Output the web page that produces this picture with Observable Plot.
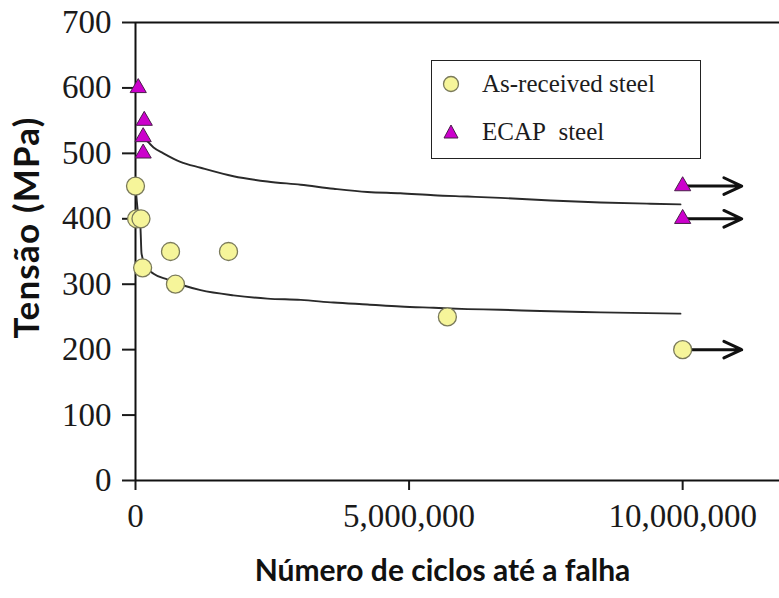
<!DOCTYPE html>
<html>
<head>
<meta charset="utf-8">
<script src="https://cdn.jsdelivr.net/npm/d3@7"></script>
<script src="https://cdn.jsdelivr.net/npm/@observablehq/plot@0.6"></script>
<style>
  html, body { margin: 0; padding: 0; background: #fff; }
  #chart { position: relative; width: 779px; height: 598px; }
  #legend {
    position: absolute; left: 431px; top: 60px; width: 268px; height: 97px;
    border: 1.6px solid #222; background: #fff;
    font-family: "Liberation Serif", "Times New Roman", serif; font-size: 25px; color: #1c1c1c;
  }
  #legend .row { position: absolute; left: 0; display: flex; align-items: center; }
  #legend svg { display: block; margin-left: 9px; margin-right: 21px; }
</style>
</head>
<body>
<div id="chart"></div>
<script>
// Fatigue tests: stress amplitude (MPa) against number of cycles to failure
const asReceivedCycles = [0, 20000, 100000, 130000, 640000, 730000, 1700000, 5700000, 10000000];
const asReceivedStress = [450, 400, 400, 325, 350, 300, 350, 250, 200];

const ecapCycles = [50000, 160000, 140000, 140000, 10000000, 10000000];
const ecapStress = [600, 550, 525, 500, 450, 400];

// Specimens that did not fail (run-outs) at 10^7 cycles
const runoutCycles = [10000000, 10000000, 10000000];
const runoutStress = [450, 400, 200];
const runoutSeries = ["ECAP", "ECAP", "As-received"];
const runoutEnd = 11080000;

// Fitted S-N curves
const asReceivedFitCycles = [0, 40000, 90000, 110000, 180000, 330000, 590000, 880000, 1190000, 1790000, 2410000, 3020000, 3620000, 4240000, 4840000, 5450000, 6070000, 6670000, 7400000, 8500000, 9960000];
const asReceivedFitStress = [451, 413, 387, 347, 328, 316, 307, 298, 291, 283, 278, 276, 272, 269, 266, 264, 262, 261, 259, 257, 255];

const ecapFitCycles = [140000, 220000, 330000, 510000, 820000, 1190000, 1790000, 2410000, 3020000, 3620000, 4240000, 4840000, 5450000, 6070000, 6670000, 7590000, 8500000, 9410000, 9960000];
const ecapFitStress = [523, 518, 509, 500, 487, 478, 465, 457, 452, 446, 441, 439, 436, 434, 432, 428, 425, 423, 422];

const yTicks = [0, 100, 200, 300, 400, 500, 600, 700];
const xTicks = [0, 5000000, 10000000];

const asReceived = asReceivedCycles.map((n, i) => ({n, s: asReceivedStress[i]}));
const ecap = ecapCycles.map((n, i) => ({n, s: ecapStress[i]}));
const runouts = runoutCycles.map((n, i) => ({n, s: runoutStress[i], n2: runoutEnd, series: runoutSeries[i]}));
const asReceivedFit = asReceivedFitCycles.map((n, i) => ({n, s: asReceivedFitStress[i]}));
const ecapFit = ecapFitCycles.map((n, i) => ({n, s: ecapFitStress[i]}));

const serif = "Liberation Serif";
const sans = "Lato";

const chart = Plot.plot({
  width: 779,
  height: 598,
  marginLeft: 135,
  marginRight: 0,
  marginTop: 22,
  marginBottom: 118,
  style: {fontFamily: serif, fontSize: "33px", color: "#1a1a1a", background: "#fff", overflow: "visible"},
  x: {domain: [0, 11770000]},
  y: {domain: [0, 700]},
  marks: [
    Plot.axisY({ticks: yTicks, tickSize: 13, tickPadding: 11, label: null, strokeWidth: 2}),
    Plot.axisX({ticks: xTicks, tickSize: 10, tickPadding: 13, label: null, strokeWidth: 2,
      tickFormat: d3.format(",")}),
    Plot.ruleY([0, 700], {stroke: "#111", strokeWidth: 2}),
    Plot.ruleX([0], {stroke: "#111", strokeWidth: 2}),
    Plot.line(ecapFit, {x: "n", y: "s", curve: "monotone-x", stroke: "#2a2a2a", strokeWidth: 1.9}),
    Plot.line(asReceivedFit, {x: "n", y: "s", curve: "monotone-x", stroke: "#2a2a2a", strokeWidth: 1.9}),
    Plot.arrow(runouts, {
      x1: "n", y1: "s", x2: "n2", y2: "s",
      insetStart: d => d.series === "ECAP" ? 8 : 10,
      stroke: "#111", strokeWidth: 3, headLength: 20, headAngle: 50
    }),
    Plot.dot(asReceived, {x: "n", y: "s", r: 9, fill: "#f6f59a", stroke: "#7a7a5a", strokeWidth: 1.3}),
    Plot.dot(ecap, {x: "n", y: "s", symbol: "triangle", r: 6, fill: "#cc00cc", stroke: "#4a1f4a", strokeWidth: 1}),
    Plot.text(["Tensão (MPa)"], {frameAnchor: "left", textAnchor: "middle", rotate: -90, dx: -108, dy: -24,
      fontFamily: sans, fontWeight: "bold", fontSize: 35, fill: "#111",
      stroke: null}),
    Plot.text(["Número de ciclos até a falha"], {frameAnchor: "bottom", textAnchor: "middle", dx: -15, dy: 100,
      fontFamily: sans, fontWeight: "bold", fontSize: 30, fill: "#111"})
  ]
});

// slightly wider tracking on the vertical title
chart.querySelectorAll("text").forEach(t => {
  if (t.textContent === "Tensão (MPa)") t.setAttribute("letter-spacing", "1.2");
});

const container = document.getElementById("chart");
container.appendChild(chart);

// Legend box drawn over the plotting area
const legend = document.createElement("div");
legend.id = "legend";
legend.innerHTML = `
  <div class="row" style="top:9px">
    <svg width="20" height="20"><circle cx="10" cy="10" r="7.5" fill="#f6f59a" stroke="#7a7a5a" stroke-width="1.3"/></svg>
    <span>As-received steel</span>
  </div>
  <div class="row" style="top:57px">
    <svg width="20" height="20"><path d="M10,3 L17,16 L3,16 Z" fill="#cc00cc" stroke="#4a1f4a" stroke-width="1"/></svg>
    <span>ECAP&nbsp; steel</span>
  </div>`;
container.appendChild(legend);
</script>
</body>
</html>
